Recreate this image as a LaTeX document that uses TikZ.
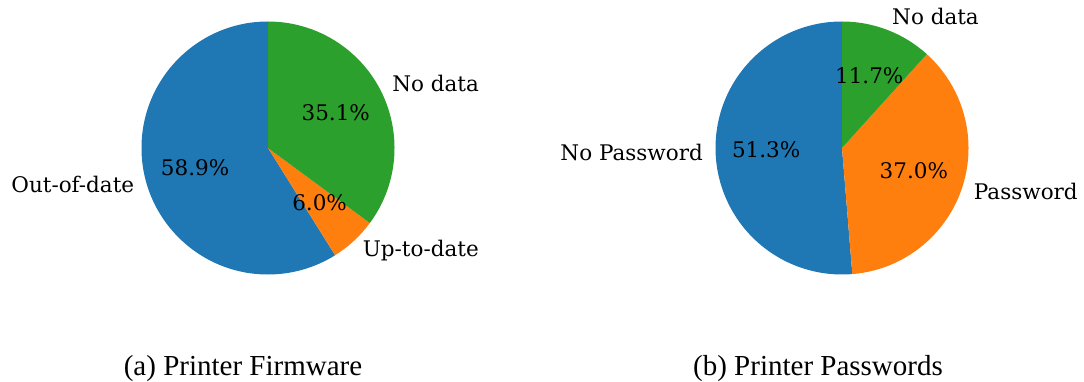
\documentclass[tikz,border=0pt]{standalone}
\usepackage{fontspec}
\setmainfont{DejaVu Serif}
\newfontfamily\capfont{Liberation Serif}
\definecolor{tabblue}{HTML}{1F77B4}
\definecolor{taborange}{HTML}{FF7F0E}
\definecolor{tabgreen}{HTML}{2CA02C}
\begin{document}
\begin{tikzpicture}[x=1pt,y=1pt,
  lab/.style={font=\fontsize{21.5}{26}\selectfont, inner sep=0pt, yshift=-6.5pt},
  captxt/.style={font=\capfont\fontsize{29}{34}\selectfont, inner sep=0pt, anchor=base}]
\useasboundingbox (0,0) rectangle (1084,381);
\def\R{126.5}
% ---- pie (a)
\coordinate (c1) at (268,233);
\fill[tabblue] (c1) -- ++(90:\R) arc[start angle=90,end angle=302.04,radius=\R] -- cycle;
\fill[taborange] (c1) -- ++(302.04:\R) arc[start angle=302.04,end angle=323.64,radius=\R] -- cycle;
\fill[tabgreen] (c1) -- ++(323.64:\R) arc[start angle=323.64,end angle=450,radius=\R] -- cycle;
\node[lab, anchor=base] (a1p) at ([shift={(196.02:75.9)}]c1) {58.9\%};
\node[lab, anchor=base] (a2p) at ([shift={(312.84:75.9)}]c1) {6.0\%};
\node[lab, anchor=base] (a3p) at ([shift={(26.82:75.9)}]c1) {35.1\%};
\node[lab, anchor=base east] (a1l) at ([shift={(196.02:139.1)}]c1) {Out-of-date};
\node[lab, anchor=base west] (a2l) at ([shift={(312.84:139.1)}]c1) {Up-to-date};
\node[lab, anchor=base west] (a3l) at ([shift={(26.82:139.1)}]c1) {No data};
% ---- pie (b)
\coordinate (c2) at (842,233);
\fill[tabblue] (c2) -- ++(90:\R) arc[start angle=90,end angle=274.68,radius=\R] -- cycle;
\fill[taborange] (c2) -- ++(274.68:\R) arc[start angle=274.68,end angle=407.88,radius=\R] -- cycle;
\fill[tabgreen] (c2) -- ++(47.88:\R) arc[start angle=47.88,end angle=90,radius=\R] -- cycle;
\node[lab, anchor=base] (b1p) at ([shift={(182.34:75.9)}]c2) {51.3\%};
\node[lab, anchor=base] (b2p) at ([shift={(341.28:75.9)}]c2) {37.0\%};
\node[lab, anchor=base] (b3p) at ([shift={(68.94:75.9)}]c2) {11.7\%};
\node[lab, anchor=base east] (b1l) at ([shift={(182.34:139.1)}]c2) {No Password};
\node[lab, anchor=base west] (b2l) at ([shift={(341.28:139.1)}]c2) {Password};
\node[lab, anchor=base west] (b3l) at ([shift={(68.94:139.1)}]c2) {No data};
% ---- captions
\node[captxt] (capa) at (243,6) {(a) Printer Firmware};
\node[captxt] (capb) at (818,6) {(b) Printer Passwords};
\end{tikzpicture}
\end{document}
